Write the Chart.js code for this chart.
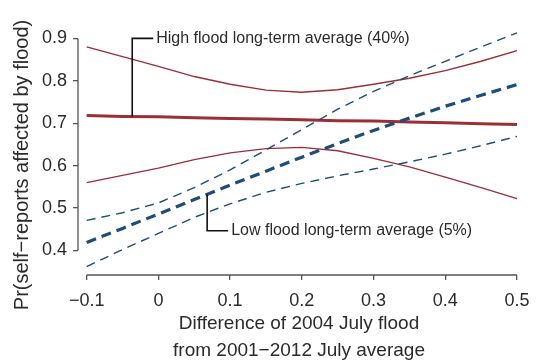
<!DOCTYPE html>
<html lang="en">
<head>
    <meta charset="UTF-8">
    <title>Flood self-reports</title>
    <script src="https://cdn.jsdelivr.net/npm/chart.js"></script>
    <style>
        body {
            margin: 0;
            padding: 0;
            background: #fff;
        }

        .container {
            width: 540px;
            height: 364px;
        }
    </style>
</head>
<body>
    <div class="container">
        <canvas id="flood-chart"></canvas>
    </div>
    <script>
        // difference of 2004 July flood from long-term average
        const xValues = [-0.1, -0.05, 0, 0.05, 0.1, 0.15, 0.2, 0.25, 0.3, 0.35, 0.4, 0.45, 0.5];

        // high flood long-term average (40%)
        const highMean  = [0.718, 0.716, 0.715, 0.713, 0.711, 0.710, 0.708, 0.706, 0.705, 0.703, 0.701, 0.699, 0.697];
        const highUpper = [0.880, 0.857, 0.834, 0.810, 0.792, 0.778, 0.773, 0.779, 0.792, 0.806, 0.824, 0.846, 0.871];
        const highLower = [0.560, 0.577, 0.594, 0.614, 0.630, 0.640, 0.643, 0.635, 0.617, 0.597, 0.573, 0.548, 0.522];

        // low flood long-term average (5%)
        const lowMean  = [0.419, 0.452, 0.486, 0.520, 0.554, 0.587, 0.620, 0.652, 0.683, 0.712, 0.740, 0.766, 0.791];
        const lowUpper = [0.471, 0.489, 0.512, 0.548, 0.590, 0.637, 0.685, 0.733, 0.775, 0.812, 0.846, 0.880, 0.913];
        const lowLower = [0.362, 0.402, 0.440, 0.478, 0.510, 0.537, 0.558, 0.576, 0.592, 0.609, 0.627, 0.647, 0.669];

        const xTicks = [-0.1, 0, 0.1, 0.2, 0.3, 0.4, 0.5];
        const xTickLabels = ['\u22120.1', '0', '0.1', '0.2', '0.3', '0.4', '0.5'];
        const yTicks = [0.4, 0.5, 0.6, 0.7, 0.8, 0.9];
        const yTickLabels = ['0.4', '0.5', '0.6', '0.7', '0.8', '0.9'];

        const yTitle = 'Pr(self\u2212reports affected by flood)';
        const xTitle = ['Difference of 2004 July flood', 'from 2001\u22122012 July average'];

        // callouts: anchor on a line, then the elbow point the label hangs off
        const notes = [
            { text: 'High flood long-term average (40%)', x: -0.0365, yFrom: 0.716, yTo: 0.9 },
            { text: 'Low flood long-term average (5%)', x: 0.068, yFrom: 0.532, yTo: 0.4465 }
        ];

        const red = '#9a2f36';
        const blue = '#1d4d78';
        const ink = '#2b2b2b';
        const axisGray = '#555';
        const fontFamily = "'Liberation Sans', Arial, Helvetica, sans-serif";

        const toPoints = ys => xValues.map((x, i) => ({ x: x, y: ys[i] }));

        function lineSet(label, ys, color, width, dash) {
            return {
                label: label,
                data: toPoints(ys),
                borderColor: color,
                borderWidth: width,
                borderDash: dash,
                pointRadius: 0,
                tension: 0,
                fill: false,
            };
        }

        const annotate = {
            id: 'annotate',
            afterDatasetsDraw(chart) {
                const { ctx, chartArea, scales } = chart;
                const x = scales.x;
                const y = scales.y;
                ctx.save();

                // detached axis lines, spanning only the tick range
                ctx.strokeStyle = axisGray;
                ctx.lineWidth = 1.3;
                ctx.beginPath();
                ctx.moveTo(x.getPixelForValue(xTicks[0]), chartArea.bottom);
                ctx.lineTo(x.getPixelForValue(xTicks[xTicks.length - 1]), chartArea.bottom);
                ctx.moveTo(chartArea.left, y.getPixelForValue(yTicks[0]));
                ctx.lineTo(chartArea.left, y.getPixelForValue(yTicks[yTicks.length - 1]));
                ctx.stroke();

                // callout brackets
                ctx.strokeStyle = '#111';
                ctx.lineWidth = 1.6;
                ctx.fillStyle = ink;
                ctx.font = '16px ' + fontFamily;
                ctx.textBaseline = 'middle';
                ctx.textAlign = 'left';
                notes.forEach(n => {
                    const px = x.getPixelForValue(n.x);
                    const py1 = y.getPixelForValue(n.yFrom);
                    const py2 = y.getPixelForValue(n.yTo);
                    ctx.beginPath();
                    ctx.moveTo(px, py1);
                    ctx.lineTo(px, py2);
                    ctx.lineTo(px + 21, py2);
                    ctx.stroke();
                    ctx.fillText(n.text, px + 24, py2);
                });

                // y title, placed by hand
                ctx.font = '20px ' + fontFamily;
                ctx.textAlign = 'center';
                ctx.translate(22, 165);
                ctx.rotate(-Math.PI / 2);
                ctx.fillText(yTitle, 0, 0);
                ctx.restore();
            }
        };

        new Chart(document.getElementById('flood-chart'), {
            type: 'line',
            data: {
                datasets: [
                    lineSet('Low mean', lowMean, blue, 3.2, [10, 6]),
                    lowSetThin('Low upper', lowUpper),
                    lowSetThin('Low lower', lowLower),
                    lineSet('High mean', highMean, red, 3, []),
                    lineSet('High upper', highUpper, red, 1.4, []),
                    lineSet('High lower', highLower, red, 1.4, []),
                ],
            },
            options: {
                responsive: true,
                maintainAspectRatio: false,
                animation: false,
                layout: { padding: { top: 12, right: 20, left: 0, bottom: 0 } },
                plugins: {
                    legend: { display: false },
                    tooltip: { enabled: false },
                },
                scales: {
                    x: {
                        type: 'linear',
                        min: -0.1121,
                        max: 0.5042,
                        afterFit: s => { s.height = 89; },
                        afterBuildTicks: s => { s.ticks = xTicks.map(v => ({ value: v })); },
                        grid: { display: true, drawOnChartArea: false, tickLength: 5, color: axisGray, lineWidth: 1.3 },
                        border: { display: false },
                        ticks: {
                            padding: 10,
                            color: ink,
                            font: { family: fontFamily, size: 18 },
                            callback: (v) => xTickLabels[xTicks.indexOf(v)],
                        },
                        title: {
                            display: true,
                            text: xTitle,
                            color: ink,
                            font: { family: fontFamily, size: 19, lineHeight: 1.42 },
                            padding: { top: 0, bottom: 0 },
                        },
                    },
                    y: {
                        min: 0.3421,
                        max: 0.9509,
                        afterFit: s => { s.width = 78; },
                        afterBuildTicks: s => { s.ticks = yTicks.map(v => ({ value: v })); },
                        grid: { display: true, drawOnChartArea: false, tickLength: 5, color: axisGray, lineWidth: 1.3 },
                        border: { display: false },
                        ticks: {
                            padding: 6,
                            color: ink,
                            font: { family: fontFamily, size: 18 },
                            callback: (v) => yTickLabels[yTicks.indexOf(v)],
                        },
                    },
                },
            },
            plugins: [annotate],
        });

        function lowSetThin(label, ys) {
            return lineSet(label, ys, blue, 1.4, [9, 6]);
        }
    </script>
</body>
</html>
